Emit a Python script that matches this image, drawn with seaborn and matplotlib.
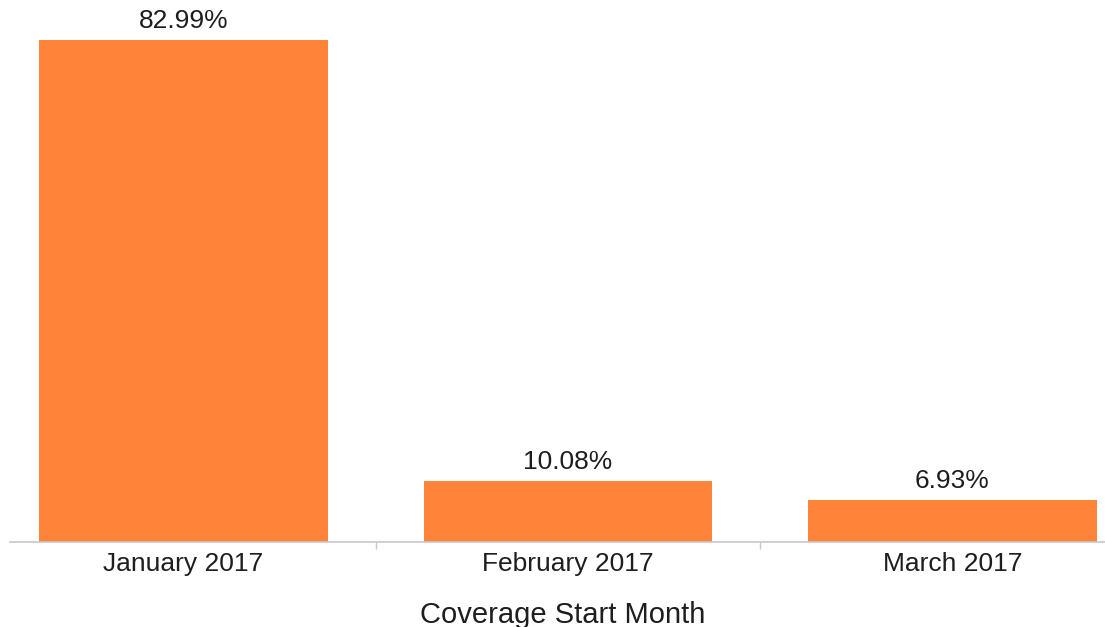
import matplotlib
matplotlib.use("Agg")
import matplotlib.pyplot as plt
import seaborn as sns
import pandas as pd

months = ["January 2017", "February 2017", "March 2017"]
shares = [82.99, 10.08, 6.93]
value_labels = ["82.99%", "10.08%", "6.93%"]

sns.set_theme(style="white")
plt.rcParams["font.family"] = ["Liberation Sans", "DejaVu Sans"]

df = pd.DataFrame({"month": months, "share": shares})

fig = plt.figure(figsize=(11.05, 6.27), dpi=100)
ax = fig.add_axes([10 / 1105, 85 / 627, 1095 / 1105, 542 / 627])

sns.barplot(data=df, x="month", y="share", color="#FF843A", saturation=1,
            width=0.75, ax=ax, edgecolor="none")

ax.set_xlim(-0.451, 2.397)
ax.set_ylim(0, 89.6)

for i, (v, lab) in enumerate(zip(shares, value_labels)):
    ax.annotate(lab, (i, v), xytext=(0, 5), textcoords="offset points",
                ha="center", va="bottom", fontsize=19, color="#1E1E1E")

for s in ["top", "right", "left"]:
    ax.spines[s].set_visible(False)
ax.spines["bottom"].set_color("#C8C8C8")
ax.spines["bottom"].set_linewidth(1.2)

ax.set_yticks([])
ax.set_ylabel("")
ax.tick_params(axis="x", which="major", length=0, pad=7, labelsize=19,
               labelcolor="#1E1E1E")
ax.set_xticks([0.5, 1.5], minor=True)
ax.tick_params(axis="x", which="minor", bottom=True, length=5,
               color="#C8C8C8", width=1)
ax.set_xlabel("Coverage Start Month", fontsize=21, color="#1E1E1E", labelpad=18)
ax.xaxis.label.set_x(0.505)

fig.savefig("out.png", dpi=100)
